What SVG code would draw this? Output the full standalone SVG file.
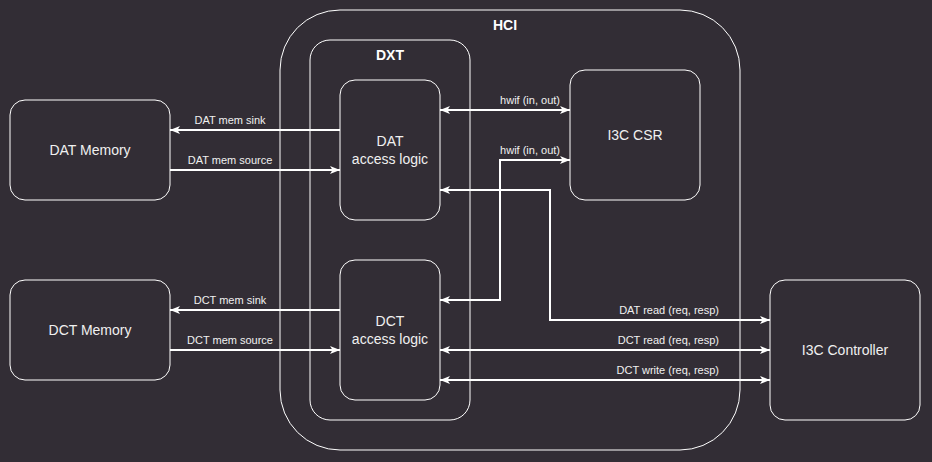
<svg xmlns="http://www.w3.org/2000/svg" width="932" height="462" viewBox="0 0 932 462">
<defs>
<marker id="arr" viewBox="0 0 10 8" refX="10" refY="4" markerWidth="10" markerHeight="8" markerUnits="userSpaceOnUse" orient="auto-start-reverse">
<path d="M0,0 L10,4 L0,8 L2.5,4 Z" fill="#ffffff"/>
</marker>
</defs>
<style>
.box{fill:none;stroke:#ffffff;stroke-width:1}
.t{font-family:"Liberation Sans",Arial,sans-serif;font-size:14px;fill:#f0f0f0;text-anchor:middle}
.b{font-family:"Liberation Sans",Arial,sans-serif;font-size:14px;font-weight:bold;fill:#ffffff;text-anchor:middle}
.l{font-family:"Liberation Sans",Arial,sans-serif;font-size:11px;fill:#f0f0f0}
.c{fill:none;stroke:#ffffff;stroke-width:2}
</style>
<rect x="0" y="0" width="932" height="462" fill="#322d35"/>
<g id="hci"><rect class="box" x="280" y="10" width="460" height="440" rx="60" ry="60"/><text class="b" x="505" y="30">HCI</text></g>
<g id="dxt"><rect class="box" x="310" y="40" width="160" height="380" rx="20" ry="20"/><text class="b" x="390" y="60">DXT</text></g>
<g id="dat-logic"><rect class="box" x="340" y="80" width="100" height="140" rx="15" ry="15"/><text class="t" x="390" y="146">DAT</text><text class="t" x="390" y="164">access logic</text></g>
<g id="dct-logic"><rect class="box" x="340" y="260" width="100" height="140" rx="15" ry="15"/><text class="t" x="390" y="326">DCT</text><text class="t" x="390" y="344">access logic</text></g>
<g id="dat-mem"><rect class="box" x="10" y="100" width="160" height="100" rx="15" ry="15"/><text class="t" x="90" y="155">DAT Memory</text></g>
<g id="dct-mem"><rect class="box" x="10" y="280" width="160" height="100" rx="15" ry="15"/><text class="t" x="90" y="335">DCT Memory</text></g>
<g id="csr"><rect class="box" x="570" y="70" width="130" height="130" rx="15" ry="15"/><text class="t" x="635" y="140">I3C CSR</text></g>
<g id="ctrl"><rect class="box" x="770" y="280" width="150" height="140" rx="15" ry="15"/><text class="t" x="845" y="355">I3C Controller</text></g>
<g id="connectors">
<path class="c" d="M340,130 L170,130" marker-end="url(#arr)"/>
<path class="c" d="M170,170 L340,170" marker-end="url(#arr)"/>
<path class="c" d="M340,310 L170,310" marker-end="url(#arr)"/>
<path class="c" d="M170,350 L340,350" marker-end="url(#arr)"/>
<path class="c" d="M440,110 L570,110" marker-start="url(#arr)" marker-end="url(#arr)"/>
<path class="c" d="M440,300 L500,300 L500,160 L570,160" marker-start="url(#arr)" marker-end="url(#arr)"/>
<path class="c" d="M440,190 L550,190 L550,320 L770,320" marker-start="url(#arr)" marker-end="url(#arr)"/>
<path class="c" d="M440,350 L770,350" marker-start="url(#arr)" marker-end="url(#arr)"/>
<path class="c" d="M440,380 L770,380" marker-start="url(#arr)" marker-end="url(#arr)"/>
<text class="l" x="230" y="124" text-anchor="middle">DAT mem sink</text>
<text class="l" x="230" y="164" text-anchor="middle">DAT mem source</text>
<text class="l" x="230" y="304" text-anchor="middle">DCT mem sink</text>
<text class="l" x="230" y="344" text-anchor="middle">DCT mem source</text>
<text class="l" x="560" y="104" text-anchor="end">hwif (in, out)</text>
<text class="l" x="560" y="154" text-anchor="end">hwif (in, out)</text>
<text class="l" x="719" y="314" text-anchor="end">DAT read (req, resp)</text>
<text class="l" x="719" y="344" text-anchor="end">DCT read (req, resp)</text>
<text class="l" x="719" y="374" text-anchor="end">DCT write (req, resp)</text>
</g>
</svg>
